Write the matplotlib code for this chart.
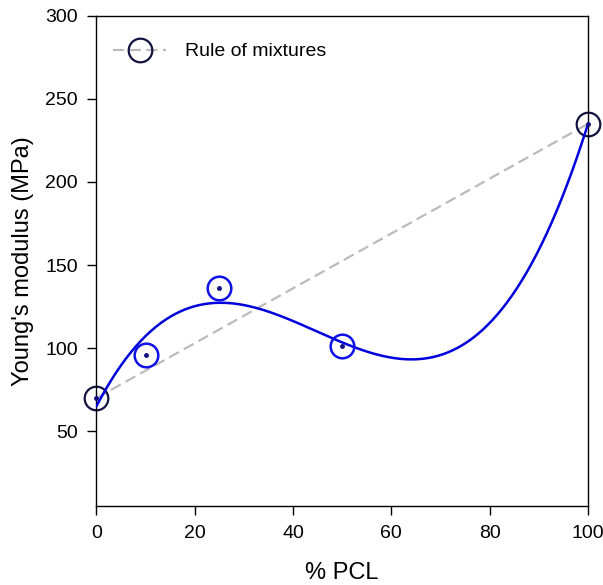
import numpy as np
import matplotlib
matplotlib.use("Agg")
import matplotlib.pyplot as plt

plt.rcParams['font.family'] = ['Liberation Sans', 'DejaVu Sans']

pcl = [0, 10, 25, 50, 100]
modulus = [70, 96, 136, 101, 235]
rom_x = [0, 100]
rom_y = [70, 235]
xticks = [0, 20, 40, 60, 80, 100]
yticks = [50, 100, 150, 200, 250, 300]

fig = plt.figure(figsize=(6.03, 5.85), dpi=100)
ax = fig.add_axes([0.160, 0.135, 0.815, 0.838])

# cubic regression curve
coef = np.polyfit(pcl, modulus, 3)
xs = np.linspace(0, 100, 300)
ax.plot(xs, np.polyval(coef, xs), color='#0000dd', lw=1.8, zorder=3)

# rule of mixtures
ax.plot(rom_x, rom_y, color='#bbbbbb', lw=1.6, ls=(0, (5, 2.5)), zorder=2,
        marker='o', ms=17, mfc='none', mec='#121240', mew=1.6,
        label='Rule of mixtures', clip_on=False)

# data points
ax.plot(pcl[1:-1], modulus[1:-1], 'o', ms=17, mfc='none', mec='#1010e8', mew=1.8, zorder=4)
ax.plot(pcl, modulus, 'o', ms=2.5, color='#101080', zorder=5, clip_on=False)

ax.set_xlim(0, 100)
ax.set_ylim(5, 300)
ax.set_xticks(xticks)
ax.set_yticks(yticks)
ax.tick_params(direction='out', length=6.5, width=1, labelsize=14, pad=7)
for s in ax.spines.values():
    s.set_linewidth(1.0)
ax.set_xlabel('% PCL', fontsize=17, labelpad=14.5)
ax.set_ylabel("Young's modulus (MPa)", fontsize=17, labelpad=8)

ax.legend(loc='center left', frameon=False, fontsize=14, handlelength=2.7,
          borderpad=0, borderaxespad=0, bbox_to_anchor=(0.0346, 0.927),
          handletextpad=1.0)

fig.savefig('out.png', dpi=100)
